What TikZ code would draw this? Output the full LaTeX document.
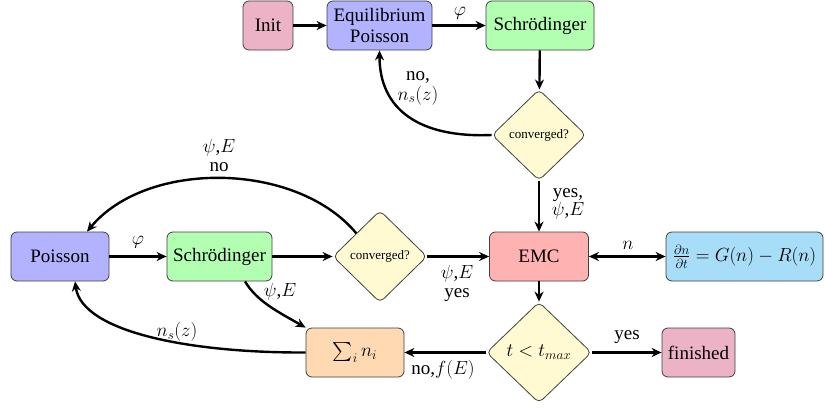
\RequirePackage{fix-cm}
\documentclass[tikz,border=0pt]{standalone}
\usepackage[no-math]{fontspec}
\setmainfont{Liberation Serif}
\DeclareFontFamily{OMX}{cmex}{}
\DeclareFontShape{OMX}{cmex}{m}{n}{<-> cmex10}{}
\usetikzlibrary{shapes.geometric,arrows.meta}
\definecolor{pinkc}{RGB}{236,178,198}
\definecolor{bluec}{RGB}{178,178,255}
\definecolor{greenc}{RGB}{178,255,178}
\definecolor{redc}{RGB}{255,178,178}
\definecolor{orangec}{RGB}{255,217,178}
\definecolor{skyc}{RGB}{168,221,247}
\definecolor{creamc}{RGB}{255,250,210}
\tikzset{
  base/.style={draw=black!75, line width=0.8bp, font=\fontsize{19bp}{21bp}\selectfont, inner sep=2bp},
  box/.style={base, rectangle, rounded corners=6bp, minimum height=49bp, align=center},
  dia/.style={base, diamond, rounded corners=5bp, fill=creamc, inner sep=0pt},
  arr/.style={line width=2.4bp, -{Stealth[length=10bp,width=9bp]}},
  lbl/.style={font=\fontsize{19bp}{17bp}\selectfont, align=center, inner sep=0pt},
}
\begin{document}
\begin{tikzpicture}[x=1bp,y=1bp]
\useasboundingbox (0,0) rectangle (825,410);
% top row
\node[box, fill=pinkc, minimum width=50bp] (init) at (268,384.5) {Init};
\node[box, fill=bluec, minimum width=105bp] (eq) at (379.5,384.5) {Equilibrium\\Poisson};
\node[box, fill=greenc, minimum width=108bp] (scht) at (540,384.5) {Schrödinger};
\node[dia, minimum width=94bp, minimum height=91bp, font=\fontsize{13bp}{15bp}\selectfont] (convt) at (539,275) {converged?};
% middle row
\node[box, fill=bluec, minimum width=98bp] (poisson) at (60,153.5) {Poisson};
\node[box, fill=greenc, minimum width=105bp] (schm) at (219.5,153.5) {Schrödinger};
\node[dia, minimum width=94bp, minimum height=92bp, font=\fontsize{13bp}{15bp}\selectfont] (convm) at (380,153.5) {converged?};
\node[box, fill=redc, minimum width=99bp] (emc) at (539,153.5) {EMC};
\node[box, fill=skyc, minimum width=157bp] (eqn) at (744.5,153.5) {$\frac{\partial n}{\partial t} = G(n) - R(n)$};
% bottom row
\node[box, fill=orangec, minimum width=98bp] (sum) at (355,57.5) {$\sum_i n_i$};
\node[dia, minimum width=105bp, minimum height=101bp] (tdiam) at (539,57.5) {$t<t_{max}$};
\node[box, fill=pinkc, minimum width=73bp] (fin) at (698.5,57.5) {finished};
% helper coordinates
\coordinate (pend) at ([xshift=27bp]poisson.north);
\coordinate (pbot) at ([xshift=15bp]poisson.south);
\coordinate (schs) at ([xshift=25.5bp]schm.south);
% connectors
\draw[arr] (init) -- (eq);
\draw[arr] (eq) -- (scht);
\draw[arr] (scht) -- (convt);
\draw[arr] (convt.west) .. controls (420,272) and (379.5,300) .. (eq.south);
\draw[arr] (poisson) -- (schm);
\draw[arr] (schm) -- (convm);
\draw[arr] (convm.north west) .. controls +(-60,72) and +(60,72) .. (pend);
\draw[arr] (convm.east) -- (emc.west);
\draw[arr] (convt) -- (emc);
\draw[line width=2.4bp, {Stealth[length=10bp,width=9bp]}-{Stealth[length=10bp,width=9bp]}] (emc) -- (eqn);
\draw[arr] (emc) -- (tdiam);
\draw[arr] (tdiam) -- (fin);
\draw[arr] (tdiam) -- (sum);
\draw[arr] (schs) .. controls +(12,-20) and +(-28,16) .. (sum.north west);
\draw[arr] (sum.west) .. controls (190,57) and (82,78) .. (pbot);
% labels
\node[lbl] (l1) at (460,397) {$\varphi$};
\node[lbl, font=\fontsize{19bp}{20bp}\selectfont] (l2) at (418,322) {no,\\$n_s(z)$};
\node[lbl] (l3) at (138,167.5) {$\varphi$};
\node[lbl, font=\fontsize{19bp}{19bp}\selectfont] (l4) at (219,255) {$\psi$,$E$\\no};
\node[lbl, font=\fontsize{19bp}{18bp}\selectfont] (l5) at (568,206) {yes,\\$\psi$,$E$};
\node[lbl, font=\fontsize{19bp}{19bp}\selectfont] (l6) at (457,127) {$\psi$,$E$\\yes};
\node[lbl] (l7) at (628,165) {$n$};
\node[lbl] (l8) at (280,118) {$\psi$,$E$};
\node[lbl] (l9) at (177,78) {$n_s(z)$};
\node[lbl] (l10) at (627,73) {yes};
\node[lbl] (l11) at (443,40) {no,$f(E)$};
\end{tikzpicture}
\end{document}
